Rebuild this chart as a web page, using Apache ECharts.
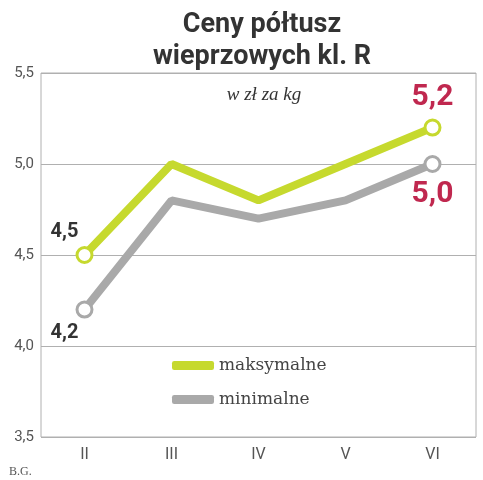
<!DOCTYPE html>
<html><head><meta charset="utf-8">
<script src="https://cdn.jsdelivr.net/npm/echarts@6/dist/echarts.min.js"></script>
<style>html,body{margin:0;padding:0;background:#fff}#c{width:483px;height:480px}</style>
</head><body><div id="c"></div>
<script>
const categories = ['II', 'III', 'IV', 'V', 'VI'];
const maxValues = [4.5, 5.0, 4.8, 5.0, 5.2];
const minValues = [4.2, 4.8, 4.7, 4.8, 5.0];
const yTicks = [3.5, 4.0, 4.5, 5.0, 5.5];
const seriesNames = ['maksymalne', 'minimalne'];

const green = '#c6d92e', grey = '#a9a9a9', crimson = '#c0284f';
const fmt = v => v.toFixed(1).replace('.', ',');

function build(values, color, firstLabelPos, lastLabelPos) {
  const last = values.length - 1;
  return values.map((v, i) => {
    const edge = i === 0 || i === last;
    const item = { value: v, symbol: edge ? 'circle' : 'none' };
    if (edge) {
      const isLast = i === last;
      item.label = {
        show: true,
        position: isLast ? lastLabelPos : firstLabelPos,
        formatter: p => fmt(p.value),
        fontFamily: 'Roboto', fontWeight: 'bold',
        fontSize: isLast ? 30 : 20,
        color: isLast ? crimson : '#333',
        offset: isLast ? [0, 0] : [-20, 0],
        distance: isLast ? 6 : 4
      };
    }
    return item;
  });
}

const chart = echarts.init(document.getElementById('c'), null, { renderer: 'canvas' });
chart.setOption({
  animation: false,
  title: [{
    text: 'Ceny półtusz\nwieprzowych kl. R',
    left: 257, top: 4, textAlign: 'center',
    textStyle: { fontFamily: 'Roboto', fontWeight: 'bold', fontSize: 27, color: '#333', lineHeight: 32 }
  }, {
    text: 'w zł za kg',
    left: 259, top: 80, textAlign: 'center',
    textStyle: { fontFamily: 'Liberation Serif', fontStyle: 'italic', fontWeight: 'normal', fontSize: 19, color: '#333' }
  }, {
    text: 'B.G.',
    left: 4, top: 461,
    textStyle: { fontFamily: 'Liberation Serif', fontWeight: 'normal', fontSize: 12, color: '#555' }
  }],
  legend: {
    orient: 'vertical', left: 167, top: 352,
    itemWidth: 42, itemHeight: 9, itemGap: 17,
    icon: 'roundRect',
    data: [
      { name: seriesNames[0], itemStyle: { color: green, borderWidth: 0 } },
      { name: seriesNames[1], itemStyle: { color: grey, borderWidth: 0 } }
    ],
    textStyle: { fontFamily: 'DejaVu Serif', fontSize: 17, color: '#444' }
  },
  grid: { left: 41, right: 7, top: 73, bottom: 43, show: true, borderColor: '#b0b0b0', borderWidth: 1 },
  xAxis: {
    type: 'category', data: categories, boundaryGap: true,
    axisLine: { show: false }, axisTick: { show: false },
    axisLabel: { color: '#555', fontSize: 16, fontFamily: 'Roboto', margin: 10 }
  },
  yAxis: {
    type: 'value', min: yTicks[0], max: yTicks[yTicks.length - 1], interval: 0.5,
    axisLine: { show: false }, axisTick: { show: false },
    splitLine: { lineStyle: { color: '#b0b0b0', width: 1 } },
    axisLabel: { color: '#555', fontSize: 15, fontFamily: 'Roboto', margin: 7, formatter: v => fmt(v) }
  },
  series: [{
    name: seriesNames[0], type: 'line', data: build(maxValues, green, 'top', 'top'),
    lineStyle: { color: green, width: 8 }, itemStyle: { color: '#fff', borderColor: green, borderWidth: 3 },
    symbolSize: 15, z: 3
  }, {
    name: seriesNames[1], type: 'line', data: build(minValues, grey, 'bottom', 'bottom'),
    lineStyle: { color: grey, width: 8 }, itemStyle: { color: '#fff', borderColor: grey, borderWidth: 3 },
    symbolSize: 15, z: 2
  }]
});
</script></body></html>
